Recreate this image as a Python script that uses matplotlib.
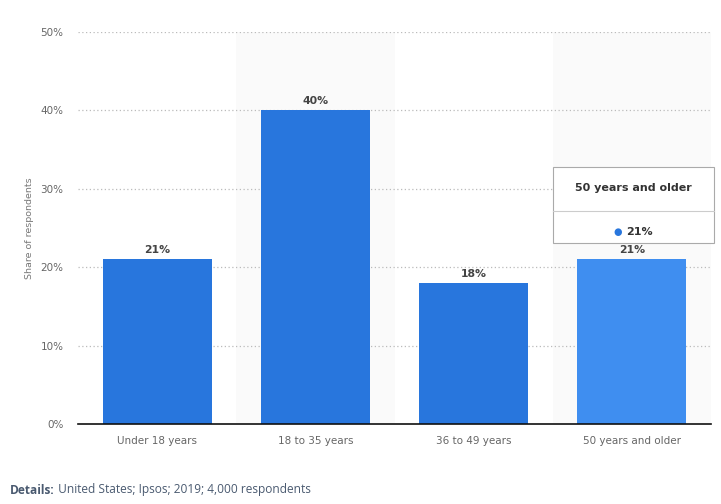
import matplotlib
matplotlib.use("Agg")
import matplotlib.pyplot as plt
from matplotlib.patches import Rectangle

categories = ["Under 18 years", "18 to 35 years", "36 to 49 years", "50 years and older"]
values = [21, 40, 18, 21]
value_labels = ["21%", "40%", "18%", "21%"]
yticks = [0, 10, 20, 30, 40, 50]
ytick_labels = ["0%", "10%", "20%", "30%", "40%", "50%"]
highlight_index = 3
tooltip_title = "50 years and older"
tooltip_value = "21%"
footer_bold = "Details:"
footer_text = " United States; Ipsos; 2019; 4,000 respondents"

W, H = 721, 504
fig = plt.figure(figsize=(W / 100, H / 100), dpi=100)
ax = fig.add_axes([78 / W, 1 - 424 / H, (711 - 78) / W, (424 - 32) / H])

base = "#2876dd"
hi = "#3f8ef0"
x = list(range(len(categories)))

ax.set_xlim(-0.5, len(categories) - 0.5)
ax.set_ylim(0, 50)

# alternating bands
for i in x:
    if i % 2 == 1:
        ax.axvspan(i - 0.5, i + 0.5, color="#fafafa", zorder=0, lw=0)

for yv in yticks[1:]:
    ax.axhline(yv, color="#bbbbbb", lw=0.9, ls=(0, (1, 2)), zorder=1)

colors = [hi if i == highlight_index else base for i in x]
ax.bar(x, values, width=0.69, color=colors, zorder=2)

for xi, v, lab in zip(x, values, value_labels):
    ax.text(xi, v + 0.55, lab, ha="center", va="bottom", fontsize=7.8,
            fontweight="bold", color="#444444", family="DejaVu Sans", zorder=3)

ax.set_yticks(yticks)
ax.set_yticklabels(ytick_labels)
ax.set_xticks(x)
ax.set_xticklabels(categories)
ax.tick_params(axis="y", length=0, pad=10.5, labelsize=7.5, labelcolor="#666666")
ax.tick_params(axis="x", length=0, pad=9, labelsize=7.5, labelcolor="#666666")
for s in ["top", "right", "left"]:
    ax.spines[s].set_visible(False)
ax.spines["bottom"].set_color("#111111")
ax.spines["bottom"].set_linewidth(1.2)
ax.spines["bottom"].set_zorder(4)

fig.text(30 / W, 1 - 228 / H, "Share of respondents", rotation=90,
         ha="center", va="center", fontsize=6.8, color="#777777")

# tooltip
tx0, ty0, tx1, ty1 = 553, 167, 714, 243
tip = Rectangle((tx0 / W, 1 - ty1 / H), (tx1 - tx0) / W, (ty1 - ty0) / H,
                transform=fig.transFigure, facecolor="white",
                edgecolor="#aaaaaa", lw=0.8, zorder=10)
fig.add_artist(tip)
fig.add_artist(plt.Line2D([tx0 / W, tx1 / W], [1 - 211 / H, 1 - 211 / H],
                          transform=fig.transFigure, color="#cccccc", lw=0.8, zorder=11))
fig.text((tx0 + tx1) / 2 / W, 1 - 188 / H, tooltip_title, ha="center", va="center",
         fontsize=8, fontweight="bold", color="#333333", zorder=12)
fig.text(618 / W, 1 - 232 / H, "●", ha="center", va="center", fontsize=7,
         color=base, zorder=12)
fig.text(626 / W, 1 - 232 / H, tooltip_value, ha="left", va="center",
         fontsize=8, fontweight="bold", color="#333333", zorder=12)

# footer
t1 = fig.text(10 / W, 1 - 490 / H, footer_bold, ha="left", va="center",
              fontsize=8.6, fontweight="bold", color="#4a5a70", family="Open Sans")
fig.canvas.draw()
bb = t1.get_window_extent()
fig.text(bb.x1 / W, 1 - 490 / H, footer_text, ha="left", va="center",
         fontsize=8.6, color="#4a5a70", family="Open Sans")

fig.savefig("out.png", dpi=100)
